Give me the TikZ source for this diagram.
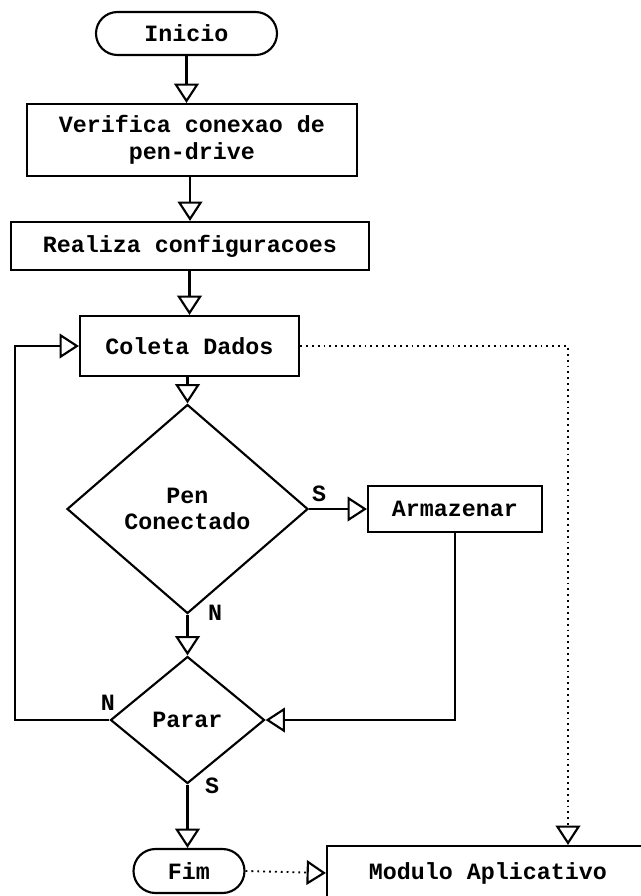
\documentclass[tikz,border=0pt]{standalone}
\usepackage{fontspec}
\setmonofont{Liberation Mono}
\usetikzlibrary{arrows.meta,shapes.geometric,shapes.misc}

\begin{document}
\begin{tikzpicture}[x=0.75pt, y=-0.75pt,
  every node/.style={font=\ttfamily\bfseries\fontsize{17.5}{20}\selectfont},
  caixa/.style={draw, line width=1.6pt, rectangle, inner sep=0pt, align=center},
  terminal/.style={draw, line width=1.6pt, rounded rectangle, inner sep=0pt},
  decisao/.style={draw, line width=1.6pt, diamond, inner sep=0pt, align=center},
  fluxo/.style={line width=1.6pt, -{Triangle[open, length=14.5pt, width=18.5pt, fill=white]}},
  pontos/.style={line width=1.4pt, dash pattern=on 1.4pt off 3pt, -{Triangle[open, length=14.5pt, width=18.5pt, fill=white, line width=1.6pt]}},
  rotulo/.style={inner sep=0pt}]
\clip (0,0) rectangle (641,896);
\fill[white] (0,0) rectangle (641,896);

% caixas do fluxo
\node[terminal, minimum width=135.75pt, minimum height=32.25pt] (inicio) at (186.5,33.5) {Inicio};
\node[caixa, minimum width=247.5pt, minimum height=54pt] (verifica) at (192,140) {Verifica conexao de\\pen-drive};
\node[caixa, minimum width=268.5pt, minimum height=36pt] (config) at (190,246) {Realiza configuracoes};
\node[caixa, minimum width=164.25pt, minimum height=45pt] (coleta) at (189.5,346) {Coleta Dados};
\node[decisao, minimum width=180.75pt, minimum height=156.75pt] (pen) at (187.5,509) {Pen\\Conectado};
\node[caixa, minimum width=130.5pt, minimum height=34.5pt] (armazenar) at (455,509) {Armazenar};
\node[decisao, minimum width=115.5pt, minimum height=95.25pt] (parar) at (187.5,720) {Parar};
\node[terminal, minimum width=83.25pt, minimum height=33pt] (fim) at (189,871) {Fim};
\node[caixa, minimum width=241.5pt, minimum height=40.5pt] (modulo) at (488,873) {Modulo Aplicativo};

% rotulos
\node[rotulo] (s1) at (319,494) {S};
\node[rotulo] (n1) at (215,613) {N};
\node[rotulo] (n2) at (108,703) {N};
\node[rotulo] (s2) at (212,786) {S};

% ligacoes
\coordinate (volta) at (15,346);
\coordinate (desvio) at (568,346);
\draw[fluxo] (inicio.south) -- (inicio.south |- verifica.north);
\draw[fluxo] (verifica.south -| config) -- (config.north);
\draw[fluxo] (config.south -| coleta) -- (coleta.north);
\draw[fluxo] (coleta.south -| pen.north) -- (pen.north);
\draw[fluxo] (pen.east) -- (armazenar.west);
\draw[fluxo] (pen.south) -- (parar.north);
\draw[fluxo] (armazenar.south) |- (parar.east);
\draw[fluxo] (parar.west) -| (volta) -- (coleta.west);
\draw[fluxo] (parar.south) -- (parar.south |- fim.north);
\draw[pontos] (fim.east) -- (modulo.west);
\draw[pontos] (coleta.east) -- (desvio) -- (desvio |- modulo.north);
\end{tikzpicture}
\end{document}
